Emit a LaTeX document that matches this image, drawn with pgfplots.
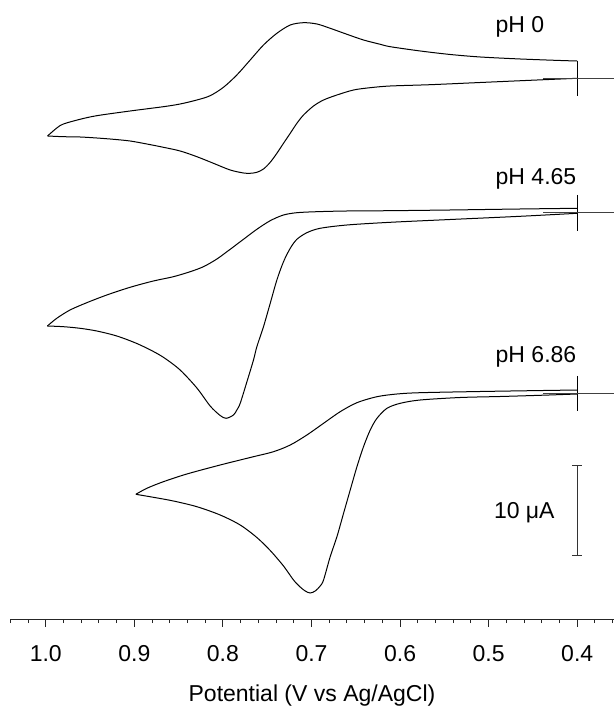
\documentclass[border=0pt]{standalone}
\usepackage{pgfplots}
\pgfplotsset{compat=1.18}
\usepackage{fontspec}
\setmainfont{Liberation Sans}
\newcommand{\lf}{\fontsize{11.5}{13.8}\selectfont}
\begin{document}
\begin{tikzpicture}
\begin{axis}[
  name=ax,
  scale only axis,
  width=302pt, height=309.5pt,
  xmin=0.3585, xmax=1.0404,
  ymin=-619, ymax=0,
  x dir=reverse,
  axis x line=bottom,
  axis y line=none,
  x axis line style={-, black!85, line width=0.5pt},
  ytick=\empty,
  xtick={0.4,0.5,0.6,0.7,0.8,0.9,1.0},
  minor xtick={0.36,0.38,0.42,0.44,0.46,0.48,0.52,0.54,0.56,0.58,0.62,0.64,0.66,0.68,0.72,0.74,0.76,0.78,0.82,0.84,0.86,0.88,0.92,0.94,0.96,0.98,1.02,1.04},
  tick align=outside,
  major tick length=3.85pt,
  minor tick length=2pt,
  every tick/.style={black!85, line width=0.5pt},
  /pgf/number format/assume math mode=true,
  /pgf/number format/fixed,
  /pgf/number format/fixed zerofill,
  /pgf/number format/precision=1,
  xticklabel style={font=\lf, anchor=base, yshift=-17.2pt},
  xlabel={Potential (V vs Ag/AgCl)},
  xlabel style={font=\lf, inner sep=0pt, at={(axis description cs:0.5,0)}, anchor=base, yshift=-41pt},
  cv/.style={black, line width=0.5pt, smooth, tension=0.5},
]
% pH 0 : reverse branch (0.4 -> 1.0)
\addplot[cv] coordinates {
(0.4000,-78.3) (0.4530,-80.3) (0.5094,-82.5) (0.5659,-84.7) (0.6111,-86) (0.6337,-87.7)
(0.6525,-90) (0.6713,-95) (0.6864,-100) (0.6977,-106) (0.7090,-115) (0.7165,-123.3)
(0.7240,-133.3) (0.7316,-143.3) (0.7391,-153.3) (0.7466,-162.3) (0.7542,-169) (0.7617,-172.3)
(0.7692,-173.3) (0.7768,-173) (0.7918,-170) (0.8107,-163.3) (0.8294,-156.7) (0.8483,-151)
(0.8672,-147.3) (0.8859,-144) (0.9048,-141) (0.9236,-139.3) (0.9424,-138) (0.9613,-137)
(0.9801,-136.7) (0.9980,-136)
};
% pH 0 : forward branch (1.0 -> 0.4)
\addplot[cv] coordinates {
(0.9980,-136) (0.9876,-128) (0.9801,-124) (0.9613,-119.3) (0.9424,-115.7) (0.9048,-111) (0.8672,-106.7) (0.8483,-104)
(0.8294,-100) (0.8144,-95.7) (0.7994,-87.3) (0.7843,-75) (0.7692,-60) (0.7542,-45)
(0.7391,-33.3) (0.7240,-25) (0.7090,-22.7) (0.6939,-24) (0.6789,-28.3) (0.6600,-34.3)
(0.6413,-40) (0.6224,-44.3) (0.6111,-46.7) (0.5772,-51) (0.5433,-54.5) (0.5094,-57)
(0.4643,-59) (0.4191,-60.5) (0.4000,-61)
};
\addplot[black, line width=0.5pt] coordinates {(0.4,-61) (0.4,-95.7)};
\addplot[black!75, line width=0.5pt] coordinates {(0.4383,-78.3) (0.3585,-78.3)};
% pH 4.65
\addplot[cv] coordinates {
(0.4000,-213.3) (0.4643,-216.3) (0.5433,-219.5) (0.6111,-222.3) (0.6600,-225) (0.6902,-228.3)
(0.7052,-232.7) (0.7165,-239.3) (0.7240,-248.3) (0.7316,-261.7) (0.7391,-280) (0.7466,-303.3)
(0.7542,-326.7) (0.7617,-346.7) (0.7655,-360) (0.7730,-382) (0.7805,-403.3) (0.7843,-410)
(0.7881,-415) (0.7963,-418.3) (0.8031,-415.5) (0.8144,-406) (0.8294,-388) (0.8483,-370)
(0.8652,-358.5) (0.8785,-351.5) (0.8972,-343.5) (0.9198,-336) (0.9424,-331) (0.9613,-328.3)
(0.9801,-326.7) (0.9982,-326)
};
\addplot[cv] coordinates {
(0.9982,-326) (0.9876,-318.3) (0.9726,-310) (0.9537,-302.7) (0.9311,-295) (0.9048,-287.3) (0.8785,-281)
(0.8559,-276.7) (0.8370,-271.7) (0.8220,-266.7) (0.8068,-259) (0.7918,-249.3) (0.7768,-239.3)
(0.7617,-229.3) (0.7466,-220.7) (0.7316,-215) (0.7165,-212.7) (0.6939,-211.7) (0.6600,-211)
(0.6111,-210.7) (0.5433,-210) (0.4643,-209) (0.4000,-208.3)
};
\addplot[black, line width=0.5pt] coordinates {(0.4,-195) (0.4,-231)};
\addplot[black!75, line width=0.5pt] coordinates {(0.4383,-212.7) (0.3585,-212.7)};
% pH 6.86
\addplot[cv] coordinates {
(0.4000,-394) (0.4417,-395.3) (0.4868,-396.5) (0.5320,-397.5) (0.5772,-400) (0.5998,-403.3)
(0.6148,-408.3) (0.6261,-418.3) (0.6337,-430) (0.6413,-446.7) (0.6487,-466.7) (0.6563,-490)
(0.6638,-513.3) (0.6713,-536.7) (0.6789,-556.7) (0.6864,-580) (0.6902,-586) (0.6958,-591)
(0.7015,-593) (0.7071,-591) (0.7128,-587) (0.7203,-580) (0.7316,-566) (0.7466,-550.5)
(0.7617,-537.5) (0.7805,-525) (0.8031,-515) (0.8294,-506.7) (0.8559,-501) (0.8785,-497.3)
(0.8983,-494.3)
};
\addplot[cv] coordinates {
(0.8983,-494.3) (0.8859,-488.3) (0.8672,-481.7) (0.8407,-474) (0.8031,-465) (0.7655,-456.7) (0.7429,-451.7)
(0.7240,-445) (0.7052,-435) (0.6864,-423.3) (0.6676,-411.7) (0.6487,-402.7) (0.6261,-396.7)
(0.6035,-394) (0.5772,-392.7) (0.5094,-391.5) (0.4530,-390.7) (0.4000,-390)
};
\addplot[black, line width=0.5pt] coordinates {(0.4,-376) (0.4,-411)};
\addplot[black!75, line width=0.5pt] coordinates {(0.4383,-394) (0.3585,-394)};
% scale bar 10 uA
\addplot[black!80, line width=0.5pt] coordinates {(0.4,-465.7) (0.4,-556)};
\addplot[black!80, line width=0.5pt] coordinates {(0.40565,-465.7) (0.39435,-465.7)};
\addplot[black!80, line width=0.5pt] coordinates {(0.40565,-556) (0.39435,-556)};
% labels
\node[anchor=base west, inner sep=0pt, font=\lf] at (axis cs:0.4925,-32.3) {pH 0};
\node[anchor=base west, inner sep=0pt, font=\lf] at (axis cs:0.4925,-185) {pH 4.65};
\node[anchor=base west, inner sep=0pt, font=\lf] at (axis cs:0.4925,-362.3) {pH 6.86};
\node[anchor=base west, inner sep=0pt, font=\lf] at (axis cs:0.4944,-518.3) {10 μA};
\end{axis}
\path ([xshift=-5pt,yshift=-43.5pt]ax.south west) rectangle (ax.north east);
\end{tikzpicture}
\end{document}
